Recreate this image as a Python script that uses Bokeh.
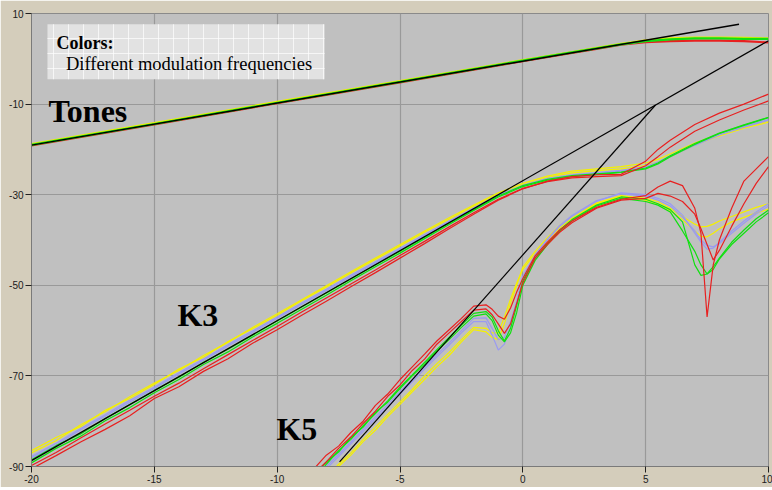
from bokeh.plotting import figure
from bokeh.models import FixedTicker, BoxAnnotation, Range1d
from bokeh.core.properties import value
from bokeh.embed import file_html
from bokeh.resources import INLINE

# ---------------- data ----------------
x_ticks = [-20, -15, -10, -5, 0, 5, 10]
y_ticks = [10, -10, -30, -50, -70, -90]

# straight reference lines (black)
tone_line_x = [-20, 8.8]
tone_line_y = [-19.05, 7.64]
k3_line_x = [-20, 10]
k3_line_y = [-88.7, 4.0]
k5_line_x = [-7.46, 5.4]
k5_line_y = [-89.0, -10.2]

# Tones
tone_x = [-20, -15, -10, -5, 0, 2, 3, 4, 5, 6, 7, 8, 9, 10]
tone_green = [-19.0, -14.4, -9.7, -5.1, -0.4, 1.4, 2.3, 3.2, 3.9, 4.3, 4.5, 4.5, 4.4, 4.4]
tone_yellow = [-18.8, -14.2, -9.5, -4.9, -0.3, 1.5, 2.4, 3.3, 4.1, 4.5, 4.7, 4.7, 4.6, 4.5]
tone_blue = [-18.9, -14.3, -9.6, -5.0, -0.35, 1.45, 2.35, 3.25, 4.0, 4.4, 4.6, 4.6, 4.5, 4.4]
tone_red = [-19.1, -14.5, -9.8, -5.2, -0.5, 1.3, 2.2, 3.1, 3.7, 3.9, 4.0, 4.0, 3.9, 3.6]

# K3
k3_x = [-20, -19, -18, -17, -16, -15, -14, -13, -12, -11, -10, -9, -8, -7, -6, -5, -4,
        -3, -2, -1, 0, 1, 2, 3, 4, 5, 5.5, 6, 7, 8, 9, 10]
k3_yellow1 = [-87.0, -84.3, -80.8, -77.9, -74.6, -71.6, -68.8, -65.5, -62.6, -59.3, -56.3, -53.2,
              -50.1, -47.0, -44.0, -41.0, -38.0, -35.1, -32.3, -29.6, -27.5, -25.9, -24.8, -24.3,
              -23.8, -23.0, -22.2, -21.0, -18.6, -16.6, -15.0, -13.7]
k3_yellow2 = [-86.5, -83.6, -81.2, -77.6, -75.0, -71.9, -68.5, -65.9, -62.4, -59.6, -56.6, -53.4,
              -50.4, -47.3, -44.3, -41.3, -38.3, -35.4, -32.6, -29.9, -27.8, -26.2, -25.2, -24.7,
              -24.3, -23.6, -22.8, -21.6, -19.0, -17.0, -15.3, -14.0]
k3_blue1 = [-87.8, -84.9, -81.6, -78.6, -75.4, -72.5, -69.3, -66.3, -63.1, -60.1, -57.0, -53.9,
            -50.9, -47.8, -44.8, -41.8, -38.8, -35.8, -32.9, -30.0, -27.9, -26.4, -25.6, -25.1,
            -24.6, -23.8, -22.8, -21.4, -18.9, -16.6, -14.9, -13.4]
k3_blue2 = [-88.1, -85.3, -81.9, -78.9, -75.8, -72.8, -69.6, -66.6, -63.4, -60.4, -57.3, -54.2,
            -51.2, -48.1, -45.1, -42.1, -39.1, -36.1, -33.1, -30.2, -28.1, -26.6, -25.8, -25.3,
            -24.8, -24.0, -23.0, -21.6, -19.1, -16.8, -15.1, -13.6]
k3_green1 = [-89.2, -86.0, -83.3, -79.9, -77.0, -73.7, -70.8, -67.5, -64.7, -61.4, -58.4, -55.3,
             -52.2, -49.0, -45.9, -42.9, -39.7, -36.6, -33.5, -30.5, -28.2, -26.8, -26.0, -25.6,
             -25.1, -24.3, -23.2, -21.6, -18.9, -16.5, -14.7, -13.0]
k3_green2 = [-88.5, -85.4, -82.8, -79.4, -76.3, -73.2, -70.3, -67.0, -64.1, -61.0, -57.9, -54.8,
             -51.7, -48.6, -45.5, -42.5, -39.4, -36.3, -33.3, -30.3, -28.0, -26.6, -25.8, -25.4,
             -25.0, -24.1, -23.0, -21.4, -18.7, -16.4, -14.6, -12.9]
k3_red1 = [-90.5, -87.6, -84.6, -81.8, -78.8, -75.0, -72.4, -69.0, -66.2, -62.8, -59.8, -56.6,
           -53.5, -50.3, -47.2, -44.0, -40.8, -37.5, -34.3, -31.2, -28.7, -27.0, -26.0, -25.6,
           -25.5, -22.6, -20.0, -18.0, -14.5, -12.0, -10.0, -7.8]
k3_red2 = [-89.8, -86.9, -83.7, -80.6, -77.6, -74.5, -71.6, -68.4, -65.3, -62.2, -59.1, -55.9,
           -52.8, -49.7, -46.6, -43.4, -40.3, -37.1, -34.0, -31.0, -28.6, -27.1, -26.3, -26.0,
           -25.8, -23.6, -21.6, -19.5, -16.0, -13.5, -11.3, -9.3]

# K5
k5_x = [-8.5, -8, -7.5, -7, -6.5, -6, -5.5, -5, -4.5, -4, -3.5, -3, -2.5, -2, -1.5, -1.25, -1,
        -0.75, -0.5, -0.25, 0, 0.5, 1, 1.5, 2, 3, 4, 5, 5.5, 6, 6.5, 7, 7.25, 7.5, 7.75, 8, 8.5,
        9, 9.5, 10]
k5_red1 = [-90.5, -87.5, -85.5, -82.5, -80.0, -76.5, -74.0, -70.8, -68.0, -65.2, -62.3, -59.8,
           -57.3, -54.6, -54.3, -55.3, -56.8, -57.5, -55.0, -51.5, -48.5, -43.5, -40.5, -37.8,
           -35.8, -32.8, -31.0, -30.2, -28.3, -27.0, -28.0, -33.0, -38.5, -57.0, -45.5, -40.0,
           -33.0, -27.0, -24.3, -21.6]
k5_red2 = [-91.5, -89.0, -86.0, -83.5, -80.5, -77.8, -74.5, -72.0, -68.8, -66.3, -63.0, -60.5,
           -58.0, -55.5, -55.2, -56.5, -58.5, -60.6, -58.5, -54.0, -49.5, -44.0, -41.0, -38.3,
           -36.2, -33.0, -31.2, -30.8, -29.7, -30.3, -31.5, -34.3, -37.5, -41.0, -44.4, -42.3,
           -37.0, -32.0, -27.5, -23.8]
k5_green1 = [-93.0, -89.5, -86.5, -84.0, -81.0, -78.3, -75.5, -72.5, -69.8, -67.0, -64.2, -61.5,
             -58.8, -56.2, -55.8, -57.0, -60.0, -62.3, -59.5, -54.5, -49.0, -44.0, -40.8, -37.8,
             -35.5, -32.3, -30.5, -31.0, -32.0, -33.3, -36.0, -45.5, -47.8, -47.5, -45.9, -44.0,
             -40.5, -37.8, -35.3, -33.4]
k5_green2 = [-92.0, -89.0, -86.8, -83.6, -81.3, -78.0, -75.8, -72.8, -70.0, -67.4, -64.5, -62.0,
             -59.3, -56.8, -56.3, -57.8, -61.0, -62.5, -60.5, -56.0, -50.0, -44.5, -41.0, -38.0,
             -35.8, -32.5, -30.8, -31.5, -32.3, -33.8, -38.0, -42.5, -45.5, -47.5, -46.5, -44.2,
             -41.0, -38.5, -36.0, -34.0]
k5_blue1 = [-93.5, -90.5, -87.8, -85.0, -82.3, -79.5, -76.8, -74.0, -71.3, -68.5, -65.8, -63.2,
            -60.5, -58.0, -58.0, -61.0, -64.3, -63.0, -59.0, -54.0, -48.5, -43.5, -40.0, -37.0,
            -34.8, -31.5, -29.6, -30.0, -30.8, -32.0, -34.5, -38.5, -40.5, -42.0, -41.8, -40.5,
            -38.0, -35.8, -33.8, -32.0]
k5_blue2 = [-93.0, -90.0, -87.3, -84.6, -81.8, -79.0, -76.3, -73.5, -70.8, -68.0, -65.3, -62.7,
            -60.0, -57.3, -57.2, -59.5, -62.0, -61.5, -58.0, -53.5, -48.0, -43.2, -39.8, -36.8,
            -34.6, -31.3, -29.8, -30.3, -31.2, -32.5, -35.0, -38.0, -40.0, -41.2, -41.5, -40.8,
            -38.5, -36.3, -34.2, -32.5]
k5_yellow1 = [-96.0, -93.0, -90.0, -87.5, -84.5, -82.0, -79.0, -76.3, -73.5, -70.8, -68.0, -65.5,
              -62.5, -59.8, -60.3, -61.5, -62.0, -58.5, -54.0, -50.0, -46.0, -42.5, -39.5, -36.8,
              -34.8, -31.8, -30.2, -30.8, -31.5, -33.0, -34.8, -36.5, -37.1, -37.0, -36.5, -35.8,
              -34.8, -33.8, -32.8, -32.0]
k5_yellow2 = [-95.0, -92.5, -89.5, -87.0, -84.0, -81.3, -78.5, -75.8, -73.0, -70.0, -67.3, -64.8,
              -62.0, -59.3, -59.5, -60.5, -60.5, -57.0, -53.0, -49.5, -46.5, -43.0, -40.0, -37.3,
              -35.2, -32.0, -30.4, -31.2, -32.0, -33.5, -35.5, -38.0, -39.2, -39.3, -38.5, -37.5,
              -36.0, -35.0, -34.0, -33.2]

legend_title = "Colors:"
legend_text = "Different modulation frequencies"
labels = ["Tones", "K3", "K5"]
label_x = [-19.31, -14.06, -10.03]
label_y = [-11.6, -56.6, -81.7]

# ---------------- styling ----------------
YELLOW = "#f5f000"
BLUE = "#9a9af0"
GREEN = "#10e010"
RED = "#e82020"

p = figure(width=772, height=487, output_backend="svg", toolbar_location=None,
           x_range=Range1d(-20, 10), y_range=Range1d(-90, 10),
           min_border_left=31, min_border_right=4, min_border_top=13, min_border_bottom=21)
p.background_fill_color = "#c0c0c0"
p.border_fill_color = "#d4cdbb"
p.outline_line_color = "#8a8a8a"

p.xaxis.ticker = FixedTicker(ticks=x_ticks)
p.yaxis.ticker = FixedTicker(ticks=y_ticks)
p.xaxis.major_label_overrides = {t: str(t) for t in x_ticks}
p.yaxis.major_label_overrides = {t: str(t) for t in y_ticks}
for ax in (p.xaxis, p.yaxis):
    ax.major_label_text_font = "Liberation Sans"
    ax.major_label_text_font_size = "10px"
    ax.major_label_text_color = "#202020"
    ax.axis_line_color = "#7a7a7a"
    ax.major_tick_line_color = "#202020"
    ax.major_tick_out = 6
    ax.major_tick_in = 0
    ax.minor_tick_line_color = None
    ax.major_label_standoff = 2
p.grid.grid_line_color = "#999999"
p.grid.grid_line_width = 1.2

# legend box
box = BoxAnnotation(left=-19.35, right=-8.07, top=7.64, bottom=-4.5,
                    fill_color="#e2e2e2", fill_alpha=1.0, line_color=None,
                    hatch_pattern="+", hatch_color="white", hatch_alpha=0.7,
                    hatch_scale=15, hatch_weight=1, level="underlay")
p.add_layout(box)

# K5 curves
for ys, c in [(k5_yellow1, YELLOW), (k5_yellow2, YELLOW), (k5_blue1, BLUE), (k5_blue2, BLUE),
              (k5_green1, GREEN), (k5_green2, GREEN), (k5_red1, RED), (k5_red2, RED)]:
    p.line(k5_x, ys, line_color=c, line_width=1.2)

# K3 curves
for ys, c in [(k3_yellow1, YELLOW), (k3_yellow2, YELLOW), (k3_blue1, BLUE), (k3_blue2, BLUE),
              (k3_green1, GREEN), (k3_green2, GREEN), (k3_red1, RED), (k3_red2, RED)]:
    p.line(k3_x, ys, line_color=c, line_width=1.2)

# tone curves
for ys, c in [(tone_red, RED), (tone_blue, BLUE), (tone_yellow, YELLOW), (tone_green, GREEN)]:
    p.line(tone_x, ys, line_color=c, line_width=2.2)

# black reference lines
p.line(tone_line_x, tone_line_y, line_color="black", line_width=1.4)
p.line(k3_line_x, k3_line_y, line_color="black", line_width=1.2)
p.line(k5_line_x, k5_line_y, line_color="black", line_width=1.2)

# texts
p.text(x=label_x, y=label_y, text=labels, text_font=value("Liberation Serif"),
       text_font_style="bold", text_font_size="32px", text_baseline="alphabetic",
       text_color="black")
p.text(x=[-18.98], y=[3.4], text=[legend_title], text_font=value("Liberation Serif"),
       text_font_style="bold", text_font_size="18px", text_baseline="alphabetic",
       text_color="black")
p.text(x=[-18.6], y=[-1.2], text=[legend_text], text_font=value("Liberation Serif"),
       text_font_size="18.5px", text_baseline="alphabetic", text_color="black")

open("out.html", "w").write(file_html(p, INLINE))
